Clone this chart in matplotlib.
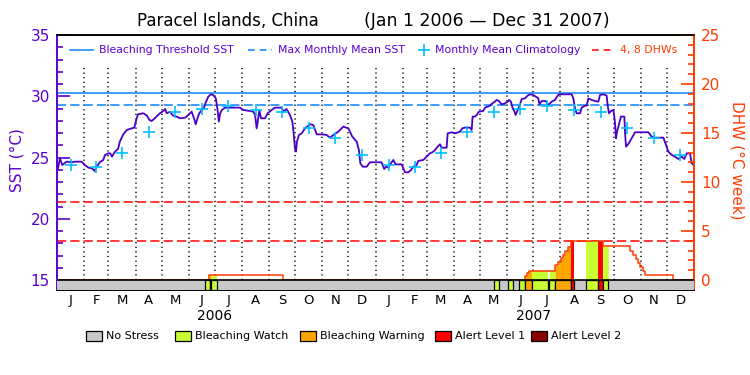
import matplotlib
matplotlib.use('Agg')
import matplotlib.pyplot as plt
import numpy as np
from matplotlib.patches import Rectangle
from matplotlib.lines import Line2D

# colours
purple = '#5a00d2'
sst_col = '#4b00c8'
blue = '#1e8cff'
cyan = '#00c0ff'
red = '#ff1414'
orange_red = '#ff3c00'
stress_cols = ['#c8c8c8', '#c8ff32', '#ffa500', '#ff0000', '#8b0000']
stress_names = ['No Stress', 'Bleaching Watch', 'Bleaching Warning', 'Alert Level 1', 'Alert Level 2']

# data (day 0 = Jan 1 2006)
sst_day = [0, 1.5, 3.4, 6, 11, 17, 20.6, 28, 32, 36, 40, 43, 45.5, 49, 53, 55, 59, 61, 63, 66.5,
           70, 72, 76, 80, 85.6, 88.6, 91.3, 93, 99, 103, 106, 108.5, 112, 118, 122, 124, 125.7,
           129.5, 133, 137, 141, 147, 150.5, 154.3, 157, 159, 161, 163, 166, 168, 170, 173.4,
           176.5, 179, 182, 184, 185.5, 187, 189, 192.5, 200, 209.7, 213.5, 221, 225, 227,
           228.8, 230, 231.9, 233.8, 238.4, 241.4, 246, 249.8, 257.5, 259.4, 263, 267, 269.7,
           271, 272.7, 273.9, 275, 277.3, 280.4, 284.2, 290, 293.8, 297.6, 303.3, 309, 312.9,
           316.7, 322.4, 328.1, 333.9, 338.4, 343.4, 346, 347.6, 350.3, 354.9, 358.7, 362.5,
           366, 372, 375, 377, 379.7, 382.7, 385.4, 388, 395, 398.8, 402.6, 405.7, 408.3, 412.1,
           414, 419.8, 423.6, 427.4, 430, 433.2, 436.2, 438.9, 440.8, 446.5, 447.7, 452.3, 456,
           461.8, 464.5, 467.5, 473.3, 475.2, 476.3, 479, 480.9, 483.6, 488.5, 490.5, 496.2,
           498.9, 501.9, 503.8, 506.5, 509.5, 513.4, 516.4, 518, 520.2, 522.2, 524, 525.6,
           527.9, 530.5, 532.5, 536.3, 540.1, 544, 547, 551.6, 552.8, 555.4, 560.4, 562.3, 565,
           566.9, 570.7, 573.8, 575.3, 578.4, 589.8, 591.7, 593.6, 595.5, 599.4, 601.3, 605.1,
           607, 608.9, 612.7, 616.6, 620.4, 622.3, 626.1, 629.9, 631.1, 632.6, 634.9, 637.6,
           638.7, 639.5, 640.6, 641.8, 643.3, 646.3, 650.2, 650.9, 652.1, 654.8, 658.6, 662.4,
           670, 677.7, 681.5, 685.3, 694.9, 697.9, 700.6, 704.4, 708.2, 712.1, 715.9, 718.9,
           721.6, 725.4, 727.3, 730]
sst_val = [23.85, 24.25, 24.93, 24.39, 24.66, 24.61, 24.66, 24.66, 24.39, 24.17, 24.12, 23.9,
           24.25, 24.61, 24.8, 25.21, 25.34, 25.34, 25.07, 25.48, 25.7, 26.3, 26.89, 27.25,
           27.38, 27.44, 28.2, 28.53, 28.61, 28.42, 28.06, 27.98, 28.2, 28.61, 28.8, 28.96,
           28.61, 28.74, 28.42, 28.34, 28.2, 28.25, 28.47, 28.74, 28.2, 27.71, 28.2, 28.61,
           28.88, 28.96, 29.42, 29.97, 30.16, 30.1, 29.83, 28.88, 27.93, 28.61, 28.88, 29.07,
           29.07, 29.07, 28.88, 28.8, 28.74, 28.47, 27.38, 27.93, 28.88, 28.2, 28.2, 28.61,
           28.88, 29.07, 29.07, 28.74, 28.96, 28.47, 27.93, 27.11, 25.75, 25.48, 26.3, 26.84,
           26.97, 27.38, 27.71, 27.65, 26.89, 26.89, 26.84, 26.62, 26.84, 27.11, 27.52, 27.38,
           26.7, 26.3, 25.61, 24.53, 24.25, 24.25, 24.61, 24.61, 24.61, 24.61, 24.06, 24.25,
           24.17, 24.53, 24.8, 24.44, 24.44, 23.79, 23.79, 23.98, 24.25, 24.39, 24.72, 24.8,
           25.07, 25.34, 25.42, 25.61, 25.89, 26.08, 25.8, 25.8, 26.97, 27.06, 26.97, 27.11,
           27.38, 27.44, 27.44, 27.25, 28.34, 28.34, 28.47, 28.74, 28.8, 29.07, 29.23, 29.42,
           29.56, 29.7, 29.61, 29.34, 29.42, 29.56, 29.7, 29.56, 29.02, 28.8, 28.47, 28.88,
           29.29, 29.78, 29.83, 30.1, 30.16, 30.05, 29.83, 29.34, 29.61, 29.61, 29.29, 29.42,
           29.56, 29.7, 30.05, 30.16, 30.16, 30.16, 29.83, 29.02, 28.61, 28.61, 29.07, 29.23,
           29.23, 29.83, 29.7, 29.61, 29.56, 30.1, 30.16, 30.05, 29.23, 28.61, 28.8, 28.88,
           28.34, 27.79, 26.57, 27.11, 27.52, 28.34, 28.34, 27.11, 25.89, 26.11, 26.57, 27.06,
           27.06, 27.06, 26.7, 26.62, 26.62, 26.02, 25.48, 25.21, 25.07, 24.88, 25.07, 24.88,
           25.34, 25.34, 24.53, 24.39]

clim = [24.35, 24.25, 25.35, 27.1, 28.7, 28.95, 29.2, 28.9, 28.7, 27.4, 26.6, 25.2]
mmm = 29.26
threshold = 30.26
dhw_levels = [4, 8]

dhw_day = [0, 174.6, 258.6, 536.2, 538.5, 541, 570.7, 574.5, 577.5, 580, 582.5, 585.5, 588.5,
           625.5, 656.5, 660, 663, 666, 668.5, 671, 674, 705.6, 730]
dhw_val = [0, 0.5, 0, 0.4, 0.7, 0.95, 1.5, 1.85, 2.2, 2.55, 3.0, 3.4, 4.0,
           3.5, 3.0, 2.55, 2.1, 1.7, 1.35, 0.95, 0.5, 0, 0]

stress_start = [169.6, 175.0, 176.5, 501.2, 517.3, 529.9, 536.4, 544.0, 564.3, 570.7, 588.7,
                606.3, 620.4, 625.4]
stress_end = [175.0, 176.5, 183.8, 507.0, 523.0, 536.4, 544.0, 563.1, 570.7, 588.7, 592.5,
              620.4, 625.4, 631.9]
stress_level = [1, 2, 1, 1, 1, 1, 2, 1, 1, 2, 3, 1, 3, 1]

month_letters = ['J', 'F', 'M', 'A', 'M', 'J', 'J', 'A', 'S', 'O', 'N', 'D']
years = ['2006', '2007']

# month geometry
months = np.arange('2006-01', '2008-01', dtype='datetime64[M]')
m_start = (months.astype('datetime64[D]') - np.datetime64('2006-01-01')).astype(int)
m_end = np.append(m_start[1:], 730)
m_mid = (m_start + m_end) / 2.0

W, H = 750, 375
fig = plt.figure(figsize=(7.5, 3.75), dpi=100)
ax = fig.add_axes([57 / W, 1 - 290 / H, 637 / W, 255 / H])
sst_bot = 35 - 255 / 12.25
ax.set_xlim(0, 730)
ax.set_ylim(sst_bot, 35)
ax2 = ax.twinx()
dhw_bot = (sst_bot - 15) * 1.25
ax2.set_ylim(dhw_bot, 25)

# dotted month lines
ax.vlines(m_start[1:], 15, 32.5, colors='k', linestyles=(0, (0.8, 2.2)), lw=1.1, zorder=1)

# threshold lines
ax.axhline(threshold, color=blue, lw=1.2, zorder=2)
ax.axhline(mmm, color=blue, lw=1.2, ls=(0, (5.5, 2.5)), zorder=2)
for lv in dhw_levels:
    ax2.axhline(lv, color=red, lw=1.2, ls=(0, (5.5, 2.5)), zorder=1)

ax.plot(sst_day, sst_val, color=sst_col, lw=1.3, zorder=3)
ax.plot(m_mid, clim + clim, ls='none', marker='+', ms=9, mew=1.2, color=cyan, zorder=4)

# DHW fill coloured by stress level
dd = np.array(dhw_day)
dv = np.array(dhw_val)
for s, e, lvl in zip(stress_start, stress_end, stress_level):
    xs = np.linspace(s, e, 200)
    idx = np.searchsorted(dd, xs, side='right') - 1
    ax2.fill_between(xs, 0, dv[idx], color=stress_cols[lvl], lw=0, zorder=2)
ax2.step(dhw_day, dhw_val, where='post', color=orange_red, lw=1.1, zorder=3)

# stress bar
ax2.add_patch(Rectangle((0, dhw_bot), 730, -dhw_bot, facecolor=stress_cols[0],
                        edgecolor='none', zorder=4))
for s, e, lvl in zip(stress_start, stress_end, stress_level):
    ax2.add_patch(Rectangle((s, dhw_bot), e - s, -dhw_bot, facecolor=stress_cols[lvl],
                            edgecolor='k', lw=0.9, zorder=5))
ax2.axhline(0, color='k', lw=1.2, zorder=6)

# axes styling
for a in (ax, ax2):
    a.spines['top'].set_color('k')
    a.spines['bottom'].set_color('k')
    for sp in a.spines.values():
        sp.set_linewidth(1.2)
ax.spines['left'].set_color(purple)
ax2.spines['left'].set_color(purple)
ax2.spines['right'].set_color(orange_red)
ax.spines['right'].set_color(orange_red)
ax.tick_params(axis='x', bottom=False, labelbottom=False)
ax.set_yticks(np.arange(15, 36, 5))
ax.set_yticks(np.arange(15, 36, 1), minor=True)
ax.tick_params(axis='y', which='major', direction='in', length=9.5, width=1.2,
               color=purple, labelcolor=purple, labelsize=11, pad=5)
ax.tick_params(axis='y', which='minor', direction='in', length=4.5, width=1.2, color=purple)
ax2.set_yticks(np.arange(0, 26, 5))
ax2.set_yticks(np.arange(0, 26, 1), minor=True)
ax2.tick_params(axis='y', which='major', direction='in', length=9.5, width=1.2,
                color=orange_red, labelcolor=orange_red, labelsize=11, pad=5)
ax2.tick_params(axis='y', which='minor', direction='in', length=4.5, width=1.2,
                color=orange_red)

def fx(px):
    return px / W

def fy(py):
    return 1 - py / H

fig.text(fx(17), fy(160), 'SST (°C)', rotation=90, color=purple, fontsize=11,
         ha='center', va='center')
fig.text(fx(737), fy(160), 'DHW (°C week)', rotation=-90, color=orange_red, fontsize=11,
         ha='center', va='center')

# month and year labels
for i, m in enumerate(m_mid):
    ax.text(m, -0.015, month_letters[i % 12], transform=ax.get_xaxis_transform(),
            ha='center', va='top', fontsize=9.5)
for j, y in enumerate(years):
    ax.text(m_start[6 + 12 * j], -0.075, y, transform=ax.get_xaxis_transform(),
            ha='center', va='top', fontsize=10)

# title
fig.text(fx(137), fy(21), 'Paracel Islands, China', fontsize=12, ha='left', va='center')
fig.text(fx(364), fy(21), '(Jan 1 2006 \u2014 Dec 31 2007)', fontsize=12.5, ha='left',
         va='center')

# top legend
ly = fy(50)
lfs = 7.8
fig.add_artist(Line2D([fx(70), fx(93)], [ly, ly], color=blue, lw=1.2))
fig.text(fx(99), ly, 'Bleaching Threshold SST', color=purple, fontsize=lfs, va='center')
fig.add_artist(Line2D([fx(248), fx(272)], [ly, ly], color=blue, lw=1.2, ls=(0, (4, 3))))
fig.text(fx(278), ly, 'Max Monthly Mean SST', color=purple, fontsize=lfs, va='center')
fig.add_artist(Line2D([fx(424)], [ly], color=cyan, marker='+', ms=8, mew=1.2))
fig.text(fx(435), ly, 'Monthly Mean Climatology', color=purple, fontsize=lfs, va='center')
fig.add_artist(Line2D([fx(592), fx(614)], [ly, ly], color=red, lw=1.2, ls=(0, (4, 3))))
fig.text(fx(620), ly, '4, 8 DHWs', color=orange_red, fontsize=lfs, va='center')

# bottom legend
box_x = [86, 175, 300, 435, 531]
for bx, c, name in zip(box_x, stress_cols, stress_names):
    fig.add_artist(Rectangle((fx(bx), fy(341)), 16 / W, 10 / H, facecolor=c,
                             edgecolor='k', lw=0.9, transform=fig.transFigure))
    fig.text(fx(bx + 20), fy(336), name, fontsize=8, va='center')

fig.savefig('out.png', dpi=100)
